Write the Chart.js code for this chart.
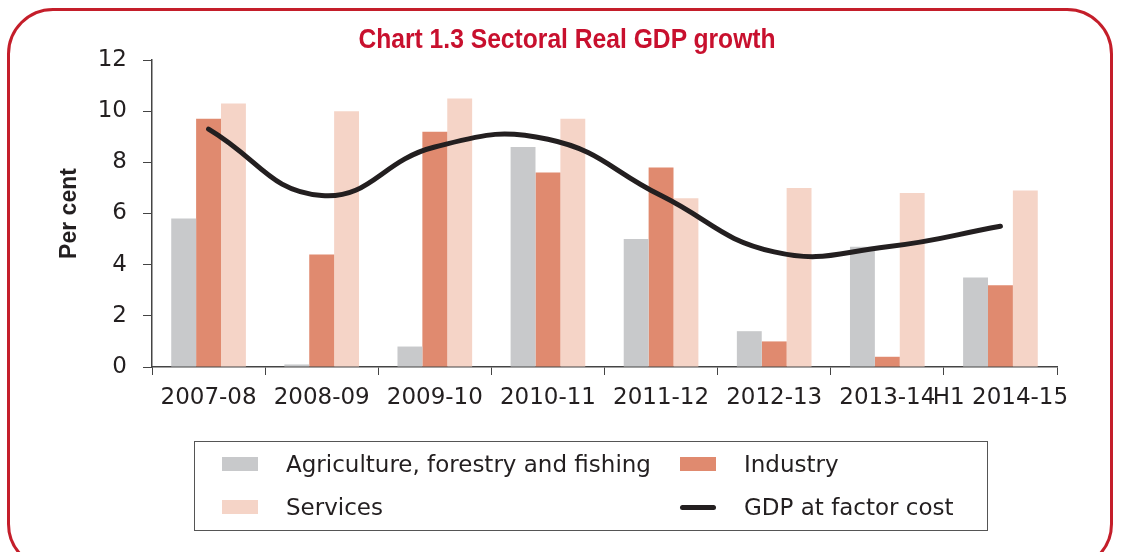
<!DOCTYPE html>
<html>
<head>
<meta charset="utf-8">
<script src="https://cdn.jsdelivr.net/npm/chart.js@4.4.1/dist/chart.umd.min.js"></script>
<style>
  html, body { margin: 0; padding: 0; background: #fff; overflow: hidden; }
  #wrap { position: relative; width: 1121px; height: 552px; overflow: hidden; }
  #frame { position: absolute; left: 7px; top: 8px; width: 1100px; height: 556px;
           border: 3px solid #c41e2a; border-radius: 46px; }
  #myChart { position: absolute; left: 0; top: 0; }
  #title { position: absolute; left: 267px; width: 600px; top: 23px; text-align: center;
           font-family: "Liberation Sans", sans-serif; font-weight: bold; font-size: 28px;
           color: #c8102e; transform: scaleX(0.88); white-space: nowrap; line-height: 32px; }
  #legend { position: absolute; left: 194px; top: 441px; width: 792px; height: 88px;
            border: 1px solid #555; font-family: "DejaVu Sans", sans-serif; font-size: 23px; color: #231f20; }
  .item { position: absolute; display: flex; align-items: center; height: 30px; white-space: nowrap; }
  .sw { width: 36px; height: 14px; margin-right: 28px; }
</style>
</head>
<body>
<div id="wrap">
  <div id="frame"></div>
  <canvas id="myChart" width="1121" height="552"></canvas>
  <div id="title">Chart 1.3 Sectoral Real GDP growth</div>
  <div id="legend"></div>
</div>
<script>
let years = ['2007-08', '2008-09', '2009-10', '2010-11', '2011-12', '2012-13', '2013-14', 'H1 2014-15'];
let agriculture = [5.8, 0.1, 0.8, 8.6, 5.0, 1.4, 4.7, 3.5];
let industry = [9.7, 4.4, 9.2, 7.6, 7.8, 1.0, 0.4, 3.2];
let services = [10.3, 10.0, 10.5, 9.7, 6.6, 7.0, 6.8, 6.9];
let gdp = [9.3, 6.7, 8.6, 8.9, 6.7, 4.5, 4.7, 5.5];
let yTicks = [0, 2, 4, 6, 8, 10, 12];

let tickFont = { family: 'DejaVu Sans', size: 23 };

let ctx = document.getElementById('myChart');

let myChart = new Chart(ctx, {
    type: 'bar',
    data: {
        labels: years,
        datasets: [
            { label: 'Agriculture, forestry and fishing', data: agriculture, backgroundColor: '#c8c9cb', order: 1 },
            { label: 'Industry', data: industry, backgroundColor: '#e08a6f', order: 1 },
            { label: 'Services', data: services, backgroundColor: '#f5d4c7', order: 1 },
            { type: 'line', label: 'GDP at factor cost', data: gdp, borderColor: '#231f20',
              borderWidth: 5, pointRadius: 0, tension: 0.45, borderCapStyle: 'round', order: 0 }
        ]
    },
    options: {
        responsive: false,
        animation: false,
        layout: { padding: { left: 0, right: 64, top: 60, bottom: 140 } },
        datasets: { bar: { categoryPercentage: 0.66, barPercentage: 1.0 } },
        plugins: {
            legend: { display: false },
            tooltip: { enabled: false },
            title: { display: false }
        },
        scales: {
            x: {
                grid: { drawOnChartArea: false, tickLength: 8, tickColor: '#444', offset: true },
                border: { color: '#444', width: 1.5 },
                ticks: { color: '#231f20', font: tickFont, padding: 9, maxRotation: 0, autoSkip: false },
                afterFit: function (scale) { scale.height = 45; }
            },
            y: {
                min: 0, max: 12,
                afterBuildTicks: function (scale) { scale.ticks = yTicks.map(v => ({ value: v })); },
                grid: { drawOnChartArea: false, tickLength: 9, tickColor: '#444' },
                border: { color: '#444', width: 1.5 },
                ticks: { color: '#231f20', font: tickFont, padding: 16 },
                title: {
                    display: true, text: 'Per cent', color: '#231f20',
                    font: { family: 'Liberation Sans', size: 23, weight: 'bold' },
                    padding: { top: 56, bottom: 0 }
                },
                afterFit: function (scale) { scale.width = 152; }
            }
        }
    }
});

// legend drawn from the chart's datasets
let legend = document.getElementById('legend');
let spots = [[27, 7], [485, 7], [27, 50], [485, 50]];
myChart.data.datasets.forEach(function (ds, i) {
    let item = document.createElement('div');
    item.className = 'item';
    item.style.left = spots[i][0] + 'px';
    item.style.top = spots[i][1] + 'px';
    let sw = document.createElement('span');
    sw.className = 'sw';
    if (ds.type === 'line') {
        sw.style.height = '5px';
        sw.style.borderRadius = '3px';
        sw.style.background = ds.borderColor;
    } else {
        sw.style.background = ds.backgroundColor;
    }
    item.appendChild(sw);
    item.appendChild(document.createTextNode(ds.label));
    legend.appendChild(item);
});
</script>
</body>
</html>
